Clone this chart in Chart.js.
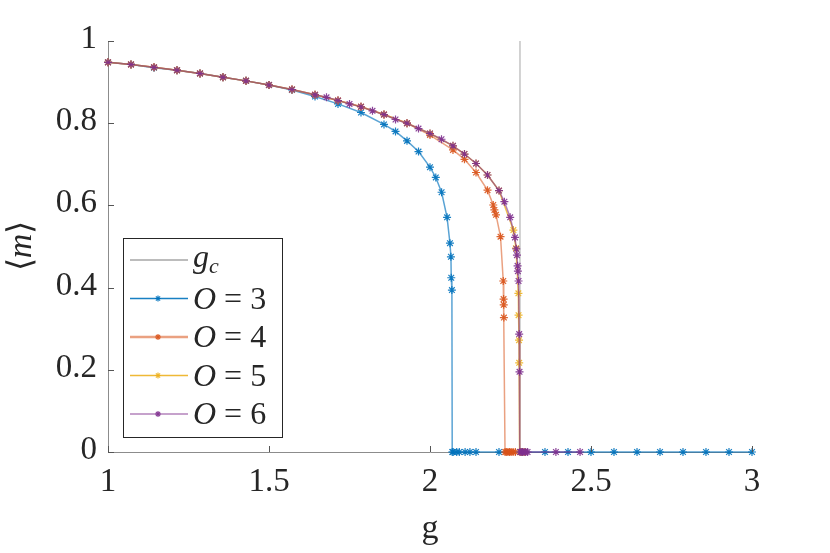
<!DOCTYPE html>
<html>
<head>
    <meta charset="UTF-8">
    <title>Order parameter vs g</title>
    <script src="https://cdn.jsdelivr.net/npm/chart.js"></script>
    <style>
        body { margin: 0; }
        #wrap { position: relative; width: 830px; height: 553px; }
        #chart { position: absolute; left: 0; top: 0; }
        #labels { position: absolute; left: 0; top: 0; width: 830px; height: 553px; pointer-events: none;
                  font-family: "Liberation Serif", serif; color: #262626; }
        .lbl { position: absolute; white-space: nowrap; font-size: 33px; line-height: 33px; }
        .ttl { font-size: 34px; line-height: 34px; }
        .leg { font-size: 32px; line-height: 32px; }
        .sub { font-size: 22px; position: relative; top: 6px; }
    </style>
</head>
<body>
<div id="wrap">
    <canvas id="chart" width="830" height="553"></canvas>
    <div id="labels"></div>
</div>
<script>
    // critical coupling, drawn as a vertical line
    const gc = 2.2795;
    const gcX = [gc, gc];
    const gcY = [0, 1];

    // O = 3
    const g3 = [1.0, 1.0714, 1.1429, 1.2143, 1.2857, 1.3571, 1.4286, 1.5, 1.5714, 1.6429, 1.7143, 1.7857, 1.8571,
        1.8929, 1.9286, 1.9643, 2.0, 2.018, 2.036, 2.053, 2.062, 2.065, 2.066, 2.068,
        2.069, 2.072, 2.083, 2.091, 2.109, 2.124, 2.1429, 2.2143, 2.2857, 2.3571, 2.4286,
        2.5, 2.5714, 2.6429, 2.7143, 2.7857, 2.8571, 2.9286, 3.0];
    const m3 = [0.948, 0.943, 0.935, 0.929, 0.921, 0.912, 0.903, 0.893, 0.881, 0.865, 0.847, 0.826, 0.797,
        0.780, 0.757, 0.731, 0.693, 0.668, 0.632, 0.571, 0.508, 0.475, 0.424, 0.394,
        0, 0, 0, 0, 0, 0, 0, 0, 0, 0, 0,
        0, 0, 0, 0, 0, 0, 0, 0];

    // O = 4
    const g4 = [1.0, 1.0714, 1.1429, 1.2143, 1.2857, 1.3571, 1.4286, 1.5, 1.5714, 1.6429, 1.7143, 1.7857, 1.8571,
        1.9286, 2.0, 2.0714, 2.1071, 2.1429, 2.1786, 2.1964, 2.200, 2.205, 2.219,
        2.2275, 2.2285, 2.229, 2.2295, 2.233, 2.237, 2.242, 2.247, 2.252, 2.258, 2.265];
    const m4 = [0.948, 0.943, 0.936, 0.929, 0.921, 0.912, 0.903, 0.893, 0.882, 0.869, 0.855, 0.840, 0.821,
        0.800, 0.771, 0.735, 0.712, 0.680, 0.637, 0.601, 0.589, 0.577, 0.524,
        0.416, 0.372, 0.358, 0.327, 0, 0, 0, 0, 0, 0, 0];

    // O = 5
    const g5 = [1.0, 1.0714, 1.1429, 1.2143, 1.2857, 1.3571, 1.4286, 1.5, 1.5714, 1.6429, 1.7143, 1.7857, 1.8571,
        1.9286, 2.0, 2.0714, 2.1071, 2.1429, 2.1786, 2.2143,
        2.259, 2.267, 2.2745, 2.275, 2.2765, 2.277, 2.2795, 2.283, 2.288, 2.293];
    const m5 = [0.948, 0.943, 0.936, 0.929, 0.921, 0.912, 0.903, 0.893, 0.882, 0.869, 0.855, 0.840, 0.821,
        0.800, 0.775, 0.745, 0.725, 0.702, 0.674, 0.636,
        0.540, 0.496, 0.386, 0.333, 0.272, 0.217, 0, 0, 0, 0];

    // O = 6
    const g6 = [1.0, 1.0714, 1.1429, 1.2143, 1.2857, 1.3571, 1.4286, 1.5, 1.5714, 1.6429,
        1.6786, 1.7143, 1.75, 1.7857, 1.8214, 1.8571, 1.8929, 1.9286, 1.9643, 2.0, 2.0357, 2.0714, 2.1071, 2.1429, 2.1786, 2.2143,
        2.231, 2.249, 2.264, 2.268, 2.270, 2.272, 2.273, 2.275, 2.277, 2.278,
        2.2795, 2.283, 2.287, 2.292, 2.297, 2.303, 2.391, 2.466];
    const m6 = [0.948, 0.943, 0.936, 0.929, 0.921, 0.912, 0.903, 0.893, 0.882, 0.869,
        0.863, 0.855, 0.847, 0.840, 0.830, 0.821, 0.809, 0.800, 0.787, 0.775, 0.761, 0.745, 0.725, 0.702, 0.674, 0.636,
        0.609, 0.571, 0.522, 0.494, 0.479, 0.453, 0.440, 0.416, 0.287, 0.195,
        0, 0, 0, 0, 0, 0, 0, 0];

    const xTicks = [1, 1.5, 2, 2.5, 3];
    const yTicks = [0, 0.2, 0.4, 0.6, 0.8, 1];
    const legendLabels = ['<i>g</i><i class="sub">c</i>', '<i>O</i> = 3', '<i>O</i> = 4', '<i>O</i> = 5', '<i>O</i> = 6'];

    const axisColor = '#8c8c8c';

    const pts = (xs, ys) => xs.map((x, i) => ({ x: x, y: ys[i] }));

    function series(label, xs, ys, rgb, lineAlpha, order) {
        return {
            label: label,
            data: pts(xs, ys),
            borderColor: 'rgba(' + rgb + ',' + lineAlpha + ')',
            borderWidth: 1.5,
            pointStyle: 'star',
            pointRadius: 4,
            pointBorderWidth: 1.2,
            pointBorderColor: 'rgba(' + rgb + ',0.9)',
            pointBackgroundColor: 'rgba(' + rgb + ',0.9)',
            tension: 0,
            clip: false,
            order: order
        };
    }

    const datasets = [
        { label: 'gc', data: pts(gcX, gcY), borderColor: '#a6a6a6', borderWidth: 1, pointRadius: 0, order: 5, clip: false },
        series('O = 3', g3, m3, '0,114,189', 0.65, 3),
        series('O = 4', g4, m4, '217,83,25', 0.55, 2),
        series('O = 5', g5, m5, '237,177,32', 0.8, 1),
        series('O = 6', g6, m6, '126,47,142', 0.6, 0)
    ];

    // MATLAB style ticks pointing into the axes
    const inwardTicks = {
        id: 'inwardTicks',
        afterDraw(chart) {
            const { ctx, chartArea: a, scales: { x, y } } = chart;
            ctx.save();
            ctx.strokeStyle = '#555';
            ctx.lineWidth = 1;
            ctx.beginPath();
            xTicks.forEach(v => {
                const px = Math.round(x.getPixelForValue(v)) + 0.5;
                ctx.moveTo(px, a.bottom);
                ctx.lineTo(px, a.bottom - 6);
            });
            yTicks.forEach(v => {
                const py = Math.round(y.getPixelForValue(v)) + 0.5;
                ctx.moveTo(a.left, py);
                ctx.lineTo(a.left + 6, py);
            });
            ctx.stroke();
            ctx.restore();
        }
    };

    // legend box and swatches, lower left inside the plot
    const legendBox = (a) => ({ bx: a.left + 15, by: a.top + 197, bw: 159, bh: 199 });
    const rowY = (by, i) => by + 22 + i * 38.5;

    const boxLegend = {
        id: 'boxLegend',
        afterDraw(chart) {
            const { ctx, chartArea: a } = chart;
            const { bx, by, bw, bh } = legendBox(a);
            ctx.save();
            ctx.fillStyle = '#fff';
            ctx.fillRect(bx, by, bw, bh);
            ctx.strokeStyle = '#262626';
            ctx.lineWidth = 1;
            ctx.strokeRect(bx + 0.5, by + 0.5, bw, bh);

            const rows = [
                { color: '#a6a6a6', marker: null, width: 1.5 },
                { color: 'rgba(0,114,189,0.9)', marker: 'rgba(0,114,189,0.9)', width: 1.5 },
                { color: 'rgba(217,83,25,0.55)', marker: 'rgba(217,83,25,0.9)', width: 2.5 },
                { color: 'rgba(237,177,32,0.9)', marker: 'rgba(237,177,32,0.9)', width: 1.5 },
                { color: 'rgba(126,47,142,0.6)', marker: 'rgba(126,47,142,0.9)', width: 1.5 }
            ];
            rows.forEach((r, i) => {
                const ry = rowY(by, i);
                ctx.strokeStyle = r.color;
                ctx.lineWidth = r.width;
                ctx.beginPath();
                ctx.moveTo(bx + 7, ry);
                ctx.lineTo(bx + 65, ry);
                ctx.stroke();
                if (r.marker) {
                    ctx.strokeStyle = r.marker;
                    ctx.lineWidth = 1.2;
                    ctx.beginPath();
                    const cx = bx + 35, s = 3;
                    ctx.moveTo(cx - s, ry); ctx.lineTo(cx + s, ry);
                    ctx.moveTo(cx, ry - s); ctx.lineTo(cx, ry + s);
                    ctx.moveTo(cx - s * 0.7, ry - s * 0.7); ctx.lineTo(cx + s * 0.7, ry + s * 0.7);
                    ctx.moveTo(cx - s * 0.7, ry + s * 0.7); ctx.lineTo(cx + s * 0.7, ry - s * 0.7);
                    ctx.stroke();
                }
            });
            ctx.restore();
        }
    };

    // all text as HTML over the canvas, placed from the chart's scales
    const htmlText = {
        id: 'htmlText',
        afterDraw(chart) {
            const box = document.getElementById('labels');
            box.innerHTML = '';
            const { chartArea: a, scales: { x, y } } = chart;
            const add = (html, cls, css) => {
                const el = document.createElement('div');
                el.className = 'lbl ' + cls;
                el.innerHTML = html;
                Object.assign(el.style, css);
                box.appendChild(el);
            };
            xTicks.forEach(v => add(String(v), '', {
                left: x.getPixelForValue(v) + 'px', top: (a.bottom + 12) + 'px', transform: 'translateX(-50%)'
            }));
            yTicks.forEach(v => add(String(v), '', {
                right: (chart.width - a.left + 11) + 'px', top: (y.getPixelForValue(v) - 20) + 'px'
            }));
            add('g', 'ttl', {
                left: ((a.left + a.right) / 2) + 'px', top: (a.bottom + 58) + 'px', transform: 'translateX(-50%)'
            });
            add('\u27E8<i>m</i>\u27E9', 'ttl', {
                left: '20px', top: ((a.top + a.bottom) / 2 - 1) + 'px', transform: 'translate(-50%, -50%) rotate(-90deg)'
            });
            const { bx, by } = legendBox(a);
            legendLabels.forEach((html, i) => add(html, 'leg', {
                left: (bx + 70) + 'px', top: (rowY(by, i) - (i === 0 ? 20 : 17)) + 'px'
            }));
        }
    };

    const ctx = document.getElementById('chart').getContext('2d', { willReadFrequently: true });
    new Chart(ctx, {
        type: 'line',
        data: { datasets },
        options: {
            responsive: false,
            animation: false,
            layout: { padding: { left: 0, top: 41, right: 78, bottom: 0 } },
            plugins: { legend: { display: false }, tooltip: { enabled: false } },
            scales: {
                x: {
                    type: 'linear',
                    min: 1, max: 3,
                    afterBuildTicks: s => { s.ticks = xTicks.map(v => ({ value: v })); },
                    afterFit: s => { s.height = 101; },
                    grid: { display: false, drawTicks: false },
                    border: { display: true, color: axisColor, width: 1 },
                    ticks: { display: false },
                    title: { display: false }
                },
                y: {
                    type: 'linear',
                    min: 0, max: 1,
                    afterBuildTicks: s => { s.ticks = yTicks.map(v => ({ value: v })); },
                    afterFit: s => { s.width = 108; },
                    grid: { display: false, drawTicks: false },
                    border: { display: true, color: axisColor, width: 1 },
                    ticks: { display: false },
                    title: { display: false }
                }
            }
        },
        plugins: [inwardTicks, boxLegend, htmlText]
    });
</script>
</body>
</html>
